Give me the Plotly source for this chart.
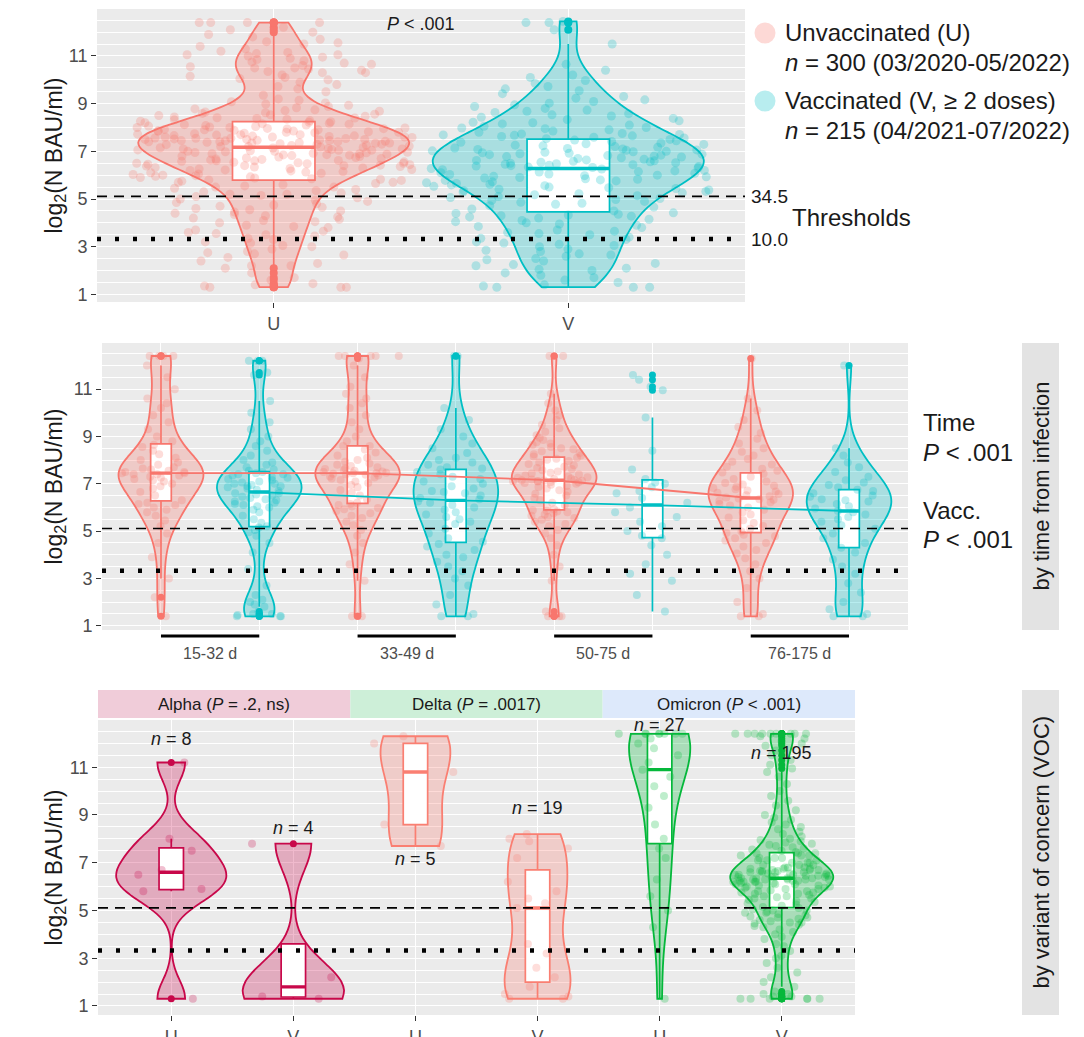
import numpy as np
import plotly.graph_objects as go

FIG_W, FIG_H = 1084, 1037

# ---------------- data: log2(N BAU/ml) ----------------
groups = ["U", "V"]

# overall (panel 1)
U_overall = [1.3, 1.3, 1.3, 1.35, 1.4, 1.45, 1.6, 1.7,
             1.9, 2.1, 2.2, 2.2, 2.3,
             2.4, 2.55, 2.65, 2.7, 2.75,
             2.8, 2.9, 3.0, 3.05, 3.15, 3.2,
             3.3, 3.35, 3.45, 3.5, 3.55, 3.6, 3.65, 3.7,
             3.8, 3.85, 3.9, 4.0, 4.05, 4.1, 4.15, 4.2, 4.25,
             4.3, 4.35, 4.4, 4.45, 4.5, 4.55, 4.6, 4.65, 4.7, 4.75,
             4.8, 4.85, 4.9, 4.95, 5.0, 5.05, 5.1, 5.15, 5.2, 5.2, 5.25,
             5.3, 5.35, 5.4, 5.45, 5.5, 5.5, 5.55, 5.6, 5.65, 5.7, 5.7, 5.75,
             5.78, 5.8, 5.83, 5.85, 5.88, 5.9, 5.93, 5.95, 5.98, 6.0, 6.03, 6.05, 6.08, 6.1, 6.13, 6.15, 6.18, 6.2, 6.22, 6.24,
             6.26, 6.28, 6.3, 6.32, 6.34, 6.36, 6.38, 6.4, 6.42, 6.44, 6.46, 6.48, 6.5, 6.52, 6.54, 6.56, 6.58, 6.6, 6.62,
             6.64, 6.66, 6.68, 6.7, 6.72, 6.74, 6.5, 6.6, 6.4,
             6.76, 6.78, 6.8, 6.82, 6.84, 6.86, 6.88, 6.9, 6.92, 6.94, 6.96, 6.98, 7.0, 7.02, 7.04, 7.06, 7.08, 7.1, 7.12,
             7.14, 7.16, 7.18, 7.2, 7.22, 7.24, 6.85, 6.95, 7.05, 7.15, 6.9, 7.0, 7.1, 7.2,
             7.26, 7.28, 7.3, 7.32, 7.34, 7.36, 7.38, 7.4, 7.42, 7.44, 7.46, 7.48, 7.5, 7.52, 7.54, 7.56, 7.58, 7.6, 7.62,
             7.64, 7.66, 7.68, 7.7, 7.72, 7.74, 7.3, 7.35, 7.4, 7.45, 7.5, 7.55, 7.6, 7.65, 7.7, 7.4, 7.45, 7.5, 7.55, 7.35, 7.6,
             7.76, 7.78, 7.8, 7.82, 7.84, 7.86, 7.88, 7.9, 7.92, 7.94, 7.96, 7.98, 8.0, 8.02, 8.04, 8.06, 8.08, 8.1, 8.12,
             8.14, 8.16, 8.18, 8.2, 8.22, 8.24, 7.8, 7.9, 8.0, 7.85, 7.95,
             8.26, 8.29, 8.32, 8.35, 8.38, 8.41, 8.44, 8.47, 8.5, 8.53, 8.56, 8.59, 8.62, 8.65, 8.68, 8.71, 8.74, 8.4,
             8.78, 8.83, 8.88, 8.93, 8.98, 9.03, 9.08, 9.14, 9.2,
             9.35, 9.5, 9.62, 9.72,
             9.8, 9.9, 10.0, 10.05, 10.1, 10.15, 10.2,
             10.3, 10.35, 10.4, 10.45, 10.5, 10.55, 10.6, 10.7, 10.3, 10.5, 10.65, 10.75, 10.95, 11.05,
             10.8, 10.85, 10.9, 11.0, 11.05, 11.1, 11.15, 11.2,
             11.3, 11.4, 11.5, 11.55, 11.6, 11.7,
             11.8, 11.9, 12.0, 12.1, 12.2,
             12.4, 12.4, 12.4, 12.4]
V_overall = [1.3, 1.3, 1.3, 1.35, 1.4, 1.5, 1.6, 1.7,
             1.8, 1.9, 2.0, 2.05, 2.1, 2.2, 2.25,
             2.3, 2.4, 2.45, 2.5, 2.6, 2.65, 2.7,
             2.8, 2.85, 2.9, 3.0, 3.05, 3.1, 3.15, 3.2,
             3.3, 3.35, 3.4, 3.5, 3.55, 3.6, 3.65, 3.7,
             3.8, 3.85, 3.9, 3.95, 4.0, 4.05, 4.1, 4.15, 4.2,
             4.25, 4.28, 4.3, 4.33, 4.36, 4.39, 4.42, 4.5, 4.58, 4.66, 4.72,
             4.78, 4.82, 4.86, 4.9, 4.94, 4.98, 5.02, 5.06, 5.1, 5.14, 5.18, 5.22,
             5.26, 5.29, 5.32, 5.35, 5.38, 5.41, 5.44, 5.47, 5.5, 5.53, 5.56, 5.59, 5.62, 5.65, 5.68, 5.72,
             5.76, 5.78, 5.8, 5.83, 5.85, 5.88, 5.9, 5.93, 5.95, 5.98, 6.0, 6.03, 6.05, 6.08, 6.1, 6.13, 6.15, 6.18, 6.2, 6.23,
             6.26, 6.28, 6.3, 6.32, 6.34, 6.36, 6.38, 6.4, 6.42, 6.44, 6.46, 6.48, 6.5, 6.52, 6.54, 6.56, 6.58, 6.6, 6.62,
             6.64, 6.67, 6.7, 6.73,
             6.76, 6.78, 6.8, 6.82, 6.84, 6.86, 6.88, 6.9, 6.92, 6.94, 6.96, 6.98, 7.0, 7.02, 7.04, 7.06, 7.08, 7.1, 7.12,
             7.14, 7.17, 7.2, 7.23,
             7.26, 7.29, 7.32, 7.35, 7.38, 7.41, 7.44, 7.47, 7.5, 7.53, 7.56, 7.59, 7.62, 7.65, 7.67, 7.69, 7.71, 7.73, 7.75,
             7.8, 7.85, 7.9, 7.95, 8.0, 8.05, 8.1, 8.15, 8.2, 8.22, 7.98,
             8.28, 8.33, 8.38, 8.43, 8.48, 8.53, 8.58, 8.63, 8.68, 8.73,
             8.8, 8.88, 8.95, 9.02, 9.09, 9.16, 9.23,
             9.3, 9.42, 9.54, 9.62, 9.72,
             9.85, 9.97, 10.1, 10.2,
             10.4, 10.65, 11.5, 12.1, 12.4, 12.4, 12.45]

# by time from infection (panel 2)
time_bins = ["15-32 d", "33-49 d", "50-75 d", "76-175 d"]
U_15_32 = [1.4, 2.2, 3.0, 3.9, 4.5, 4.9, 5.2, 5.45, 5.65, 5.8, 5.9, 6.0, 6.1, 6.15, 6.2,
           6.3, 6.5, 6.65, 6.8, 6.9, 7.0, 7.1, 7.15, 7.2, 7.25, 7.3, 7.35, 7.4, 7.4, 7.45,
           7.45, 7.5, 7.5, 7.55, 7.6, 7.65, 7.7, 7.8, 7.9, 8.0, 8.1, 8.25, 8.4, 8.55, 8.65,
           8.8, 9.0, 9.3, 9.6, 9.9, 10.2, 10.4, 10.6, 11.0, 11.5, 12.0, 12.4, 12.4, 12.4, 12.4]
U_33_49 = [1.4, 1.4, 2.9, 3.6, 4.1, 4.5, 4.8, 5.05, 5.25, 5.4, 5.55, 5.65, 5.75, 5.85, 5.92, 5.98, 6.04, 6.1, 6.15,
           6.2, 6.35, 6.5, 6.62, 6.74, 6.85, 6.95, 7.03, 7.1, 7.16, 7.22, 7.27, 7.31, 7.35, 7.38, 7.4, 7.42, 7.44,
           7.45,
           7.47, 7.5, 7.52, 7.55, 7.58, 7.62, 7.66, 7.7, 7.75, 7.8, 7.86, 7.93, 8.0, 8.1, 8.2, 8.32, 8.45, 8.6,
           8.6, 8.8, 9.0, 9.3, 9.6, 9.9, 10.2, 10.4, 10.6, 10.8, 11.1, 11.5, 12.0, 12.4, 12.4, 12.4, 12.4, 12.4, 12.3]
U_50_75 = [1.4, 1.4, 1.4, 1.6, 2.9, 3.5, 4.0, 4.4, 4.7, 4.9, 5.05, 5.2, 5.3, 5.4, 5.48, 5.55, 5.6, 5.65, 5.7, 5.75,
           5.8, 5.83, 5.86, 5.88,
           5.92, 6.0, 6.1, 6.2, 6.3, 6.4, 6.5, 6.58, 6.66, 6.73, 6.8, 6.86, 6.91, 6.96, 7.0, 7.03, 7.06, 7.08, 7.1,
           7.11, 7.12, 7.13, 7.14,
           7.15,
           7.16, 7.18, 7.2, 7.22, 7.25, 7.28, 7.31, 7.35, 7.39, 7.43, 7.47, 7.52, 7.57, 7.62, 7.67, 7.72, 7.78, 7.84,
           7.9, 7.96, 8.02, 8.06, 8.1,
           8.15, 8.2, 8.25, 8.3, 8.38, 8.46, 8.55, 8.65, 8.75, 8.85, 8.95, 9.05, 9.2, 9.35, 9.5, 9.7, 9.9, 10.1,
           10.4, 10.8, 12.4, 12.4, 8.5, 8.7]
U_76_175 = [1.4, 1.4, 1.5, 2.0, 2.6, 3.0, 3.3, 3.6, 3.85, 4.05, 4.2, 4.35, 4.5, 4.6, 4.7, 4.78, 4.85, 4.92,
            4.98, 5.1, 5.22, 5.34, 5.46, 5.58, 5.7, 5.8, 5.9, 6.0, 6.08, 6.15, 6.22, 6.28, 6.32, 6.35, 6.38,
            6.42, 6.47, 6.52, 6.57, 6.62, 6.67, 6.72, 6.77, 6.82, 6.87, 6.92, 6.97, 7.03, 7.1, 7.2, 7.3, 7.42,
            7.48, 7.55, 7.63, 7.72, 7.82, 7.93, 8.05, 8.2, 8.35, 8.5, 8.7, 8.9, 9.15, 9.4, 9.7, 10.1, 10.6, 12.3]
V_15_32 = [1.4, 1.4, 1.4, 1.45, 1.5, 1.5, 1.6, 1.8, 1.9, 2.0, 2.1, 2.3, 2.7, 3.4, 4.1, 4.5, 4.8, 4.95, 5.05, 5.15,
           5.2, 5.35, 5.5, 5.65, 5.8, 5.9, 6.0, 6.05, 6.1, 6.15, 6.2, 6.25, 6.3, 6.35, 6.4, 6.45, 6.5, 6.55, 6.6, 6.6,
           6.7, 6.75, 6.8, 6.85, 6.9, 6.9, 6.95, 7.0, 7.0, 7.05, 7.1, 7.15, 7.2, 7.25, 7.3, 7.35, 7.4, 7.4, 7.45, 7.5,
           7.55, 7.6, 7.7, 7.8, 7.9, 8.0, 8.2, 8.4, 8.6, 8.8, 9.0, 9.3, 9.6, 10.0, 10.5, 11.6, 11.7, 12.2, 12.2, 12.2]
V_33_49 = [1.4, 1.4, 1.5, 1.9, 2.3, 2.7, 3.0, 3.3, 3.5, 3.7, 3.9, 4.0, 4.2, 4.35, 4.45,
           4.55, 4.7, 4.9, 5.1, 5.3, 5.4, 5.5, 5.6, 5.7, 5.8, 5.9, 6.0, 6.1, 6.2, 6.25,
           6.35, 6.4, 6.5, 6.6, 6.65, 6.7, 6.8, 6.9, 7.0, 7.1, 7.2, 7.3, 7.4, 7.5, 7.6,
           7.65, 7.7, 7.8, 7.9, 8.0, 8.1, 8.3, 8.5, 8.7, 9.0, 9.3, 9.7, 10.2, 12.4, 12.4]
V_50_75 = [1.6, 2.3, 2.9, 3.2, 3.6, 4.0, 4.4, 4.7, 4.8, 5.0, 5.2, 5.4, 5.6, 5.8, 6.0,
           6.2, 6.4, 6.6, 6.7, 6.85, 7.0, 7.05, 7.2, 7.6, 8.4, 9.8, 10.95, 11.1, 11.4, 11.6]
V_76_175 = [1.4, 1.4, 1.5, 1.7, 2.0, 2.4, 2.8, 3.2, 3.5, 3.8, 4.1, 4.3,
            4.5, 4.7, 4.9, 5.1, 5.25, 5.4, 5.5, 5.6, 5.7, 5.8, 5.85,
            5.95, 6.05, 6.15, 6.25, 6.3, 6.35, 6.45, 6.5, 6.6, 6.7, 6.75,
            6.85, 6.95, 7.05, 7.15, 7.3, 7.5, 7.7, 7.9, 8.2, 8.5, 12.0]

# by variant of concern (panel 3)
variants = ["Alpha", "Delta", "Omicron"]
variant_p = ["<i>P</i> = .2, ns", "<i>P</i> = .0017", "<i>P</i> < .001"]
alpha_U = [1.3, 5.8, 5.9, 6.5, 6.7, 7.5, 8.0, 11.2]
alpha_V = [1.3, 1.4, 2.2, 7.8]
delta_U = [7.7, 8.6, 10.8, 12.0, 12.3]
delta_V = [1.3, 1.3, 1.4, 1.5, 1.8, 2.2, 2.6, 3.2, 3.6, 5.1, 5.3, 5.5, 5.8, 6.2, 7.2, 7.6, 7.9, 8.0, 8.2]
omicron_U = [1.3, 4.3, 5.0, 5.6, 6.3, 7.2, 7.6, 8.0, 8.6, 9.3, 9.8, 10.2, 10.6, 10.9, 11.2, 11.5, 11.8,
             12.0, 12.2, 12.4, 12.4, 12.4, 12.4, 12.4, 12.4, 12.4, 12.4]
omicron_V = [1.3, 1.3, 1.3, 1.3, 1.3, 1.3, 1.4, 1.4, 1.4, 1.5, 1.5,
             1.6, 1.8, 2.0, 2.2, 2.4, 2.6, 2.8, 3.0, 3.1, 3.3,
             3.5, 3.6, 3.8, 3.9, 4.0, 4.1, 4.2, 4.3, 4.35, 4.4,
             4.45, 4.5, 4.55, 4.6, 4.65, 4.7, 4.75, 4.8, 4.85, 4.9,
             4.95, 5.0, 5.05, 5.1, 4.5, 4.7, 4.9, 5.0,
             5.15, 5.2, 5.25, 5.3, 5.35, 5.4, 5.45, 5.5, 5.55, 5.6,
             5.6, 5.65, 5.7, 5.7, 5.75, 5.8, 5.8, 5.85, 5.9, 5.9,
             5.95, 6.0, 6.0, 6.05, 6.05, 6.1, 6.1, 6.15, 6.15, 6.2,
             6.2, 6.2, 6.25, 6.25, 6.25, 6.3, 6.3, 6.3, 6.3, 6.35,
             5.5, 5.75, 5.95, 6.1, 6.2, 6.3, 6.35, 6.35,
             6.35,
             6.4, 6.4, 6.4, 6.4, 6.45, 6.45, 6.45, 6.5, 6.5, 6.5, 6.5,
             6.55, 6.55, 6.55, 6.6, 6.6, 6.6, 6.6, 6.65, 6.65, 6.65,
             6.7, 6.7, 6.7, 6.75, 6.75, 6.75, 6.8, 6.8, 6.8,
             6.9, 6.9, 6.9, 7.0, 7.0, 7.0, 7.1, 7.1, 7.1,
             7.2, 7.2, 7.2, 7.3, 7.3, 7.3, 7.4, 7.4, 7.4,
             7.45, 7.5, 7.55, 7.6, 7.65, 7.7, 7.75, 7.8, 7.85, 7.9,
             7.95, 8.0, 8.1, 8.2, 8.3, 8.4, 8.5, 8.6, 8.7, 8.8,
             8.9, 9.0, 9.2, 9.4, 9.6, 9.8, 10.0, 10.3, 10.6, 10.8,
             10.95, 11.1, 11.3, 11.5, 11.7, 11.9, 12.0, 12.1, 12.2, 12.3,
             12.4, 12.4, 12.4, 12.4, 12.4, 12.4, 12.4, 12.4, 12.4]

thresholds = [34.5, 10.0]          # N BAU/ml
legend_labels = ["Unvaccinated (U)", "Vaccinated (V, \u2265 2 doses)"]
legend_periods = ["03/2020-05/2022", "04/2021-07/2022"]
time_p = ["Time", "<i>P</i> < .001", "Vacc.", "<i>P</i> < .001"]
overall_p = "<i>P</i> < .001"

U_time = [U_15_32, U_33_49, U_50_75, U_76_175]
V_time = [V_15_32, V_33_49, V_50_75, V_76_175]
voc = {"Alpha": (alpha_U, alpha_V), "Delta": (delta_U, delta_V), "Omicron": (omicron_U, omicron_V)}

# ---------------- style ----------------
FONT = "Liberation Sans, Arial, sans-serif"
C_U, C_V = "#F8766D", "#00BFC4"
VOC_COL = {"Alpha": "#C8084A", "Delta": "#FA7F72", "Omicron": "#05B83B"}
STRIP_FILL = {"Alpha": "#F0CCD9", "Delta": "#CDEFD8", "Omicron": "#DDE9FB"}
BG = "#EBEBEB"
TXT = "#1A1A1A"
AX_TXT = "#4D4D4D"

P1 = dict(x0=97, x1=745, y0=9, y1=302, r=[0.68, 12.97])
P2 = dict(x0=102, x1=908, y0=343, y1=630, r=[0.82, 12.95])
P3 = dict(x0=98, x1=855, y0=720, y1=1015, r=[0.62, 12.98])


def fx(x):
    return x / FIG_W


def fy(y):
    return 1 - y / FIG_H


def rgba(h, a):
    h = h.lstrip("#")
    return "rgba(%d,%d,%d,%.3f)" % (int(h[0:2], 16), int(h[2:4], 16), int(h[4:6], 16), a)


def box_stats(vals):
    a = np.sort(np.asarray(vals, float))
    q1, med, q3 = np.percentile(a, [25, 50, 75])
    iqr = q3 - q1
    lo_f, hi_f = q1 - 1.5 * iqr, q3 + 1.5 * iqr
    inside = a[(a >= lo_f) & (a <= hi_f)]
    outl = a[(a < lo_f) | (a > hi_f)]
    return q1, med, q3, inside.min(), inside.max(), outl


def nrd0(vals):
    a = np.asarray(vals, float)
    sd = a.std(ddof=1)
    iqr = np.subtract(*np.percentile(a, [75, 25]))
    lo = min(sd, iqr / 1.34) if iqr > 0 else sd
    return 0.9 * lo * len(a) ** -0.2


fig = go.Figure()


def add_group(vals, cat, color, xa, ya, vw, bw, jw, psize, osize, violin=True):
    if violin:
        fig.add_trace(go.Violin(x0=cat, y=vals, xaxis=xa, yaxis=ya, width=vw, scalemode="width",
                                spanmode="hard", bandwidth=nrd0(vals), fillcolor=rgba(color, 0.28),
                                line=dict(color=color, width=1.8), points=False,
                                box=dict(visible=False), meanline=dict(visible=False),
                                hoverinfo="skip", showlegend=False))
    q1, med, q3, lo, hi, outl = box_stats(vals)
    fig.add_trace(go.Box(x=[cat], q1=[q1], median=[med], q3=[q3], lowerfence=[lo], upperfence=[hi],
                         xaxis=xa, yaxis=ya, width=bw, fillcolor="white",
                         line=dict(color=color, width=1.7), whiskerwidth=0, boxpoints=False,
                         hoverinfo="skip", showlegend=False))
    fig.add_trace(go.Box(x=[cat], q1=[med], median=[med], q3=[med], lowerfence=[med], upperfence=[med],
                         xaxis=xa, yaxis=ya, width=bw, fillcolor=color,
                         line=dict(color=color, width=3.4), whiskerwidth=0, boxpoints=False,
                         hoverinfo="skip", showlegend=False))
    fig.add_trace(go.Box(x0=cat, y=vals, xaxis=xa, yaxis=ya, width=jw, boxpoints="all", jitter=1,
                         pointpos=0, fillcolor="rgba(0,0,0,0)",
                         line=dict(width=0, color="rgba(0,0,0,0)"), whiskerwidth=0,
                         marker=dict(color=rgba(color, 0.26), size=psize, line=dict(width=0)),
                         hoverinfo="skip", showlegend=False))
    if len(outl):
        fig.add_trace(go.Scatter(x=[cat] * len(outl), y=outl, xaxis=xa, yaxis=ya, mode="markers",
                                 marker=dict(color=color, size=osize), hoverinfo="skip", showlegend=False))
    return med


# ---- panel 1: overall ----
cats1 = groups
add_group(U_overall, "U", C_U, "x", "y", 0.92, 0.28, 0.97, 9, 8)
add_group(V_overall, "V", C_V, "x", "y", 0.92, 0.28, 0.97, 9, 8)

# ---- panel 2: by time from infection ----
cats2 = [f"{t} {g}" for t in time_bins for g in groups]
medU, medV = [], []
for t, u, v in zip(time_bins, U_time, V_time):
    medU.append(add_group(u, f"{t} U", C_U, "x2", "y2", 0.86, 0.21, 0.85, 8, 7))
    medV.append(add_group(v, f"{t} V", C_V, "x2", "y2", 0.86, 0.21, 0.85, 8, 7,
                          violin=(t != "50-75 d")))
fig.add_trace(go.Scatter(x=[f"{t} U" for t in time_bins], y=medU, xaxis="x2", yaxis="y2", mode="lines",
                         line=dict(color=C_U, width=1.8), hoverinfo="skip", showlegend=False))
fig.add_trace(go.Scatter(x=[f"{t} V" for t in time_bins], y=medV, xaxis="x2", yaxis="y2", mode="lines",
                         line=dict(color=C_V, width=1.8), hoverinfo="skip", showlegend=False))

# ---- panel 3: by variant ----
cats3 = [f"{v} {g}" for v in variants for g in groups]
vio_w3 = {"Alpha U": 0.9, "Alpha V": 0.83, "Delta U": 0.57, "Delta V": 0.54, "Omicron U": 0.5, "Omicron V": 0.84}
for v in variants:
    for g, vals in zip(groups, voc[v]):
        add_group(vals, f"{v} {g}", VOC_COL[v], "x3", "y3", vio_w3[f"{v} {g}"], 0.2, 0.8, 8, 7)


# ---------------- axes ----------------
def xaxis_cfg(P, cats, anchor, labels=True, ticktext=None):
    d = dict(domain=[fx(P["x0"]), fx(P["x1"])], anchor=anchor, type="category",
             categoryorder="array", categoryarray=cats, range=[-0.6, len(cats) - 0.4],
             showgrid=True, gridcolor="white", gridwidth=1.3, zeroline=False, showline=False,
             ticks="outside" if labels else "", ticklen=5, tickwidth=1.1, tickcolor="#333333",
             showticklabels=labels, tickfont=dict(family=FONT, size=18, color=AX_TXT), fixedrange=True)
    if ticktext is not None:
        d.update(tickmode="array", tickvals=cats, ticktext=ticktext)
    return d


def yaxis_cfg(P, anchor):
    return dict(domain=[fy(P["y1"]), fy(P["y0"])], anchor=anchor, range=P["r"],
                tickmode="linear", tick0=1, dtick=2, ticks="outside", ticklen=5, tickwidth=1.1,
                tickcolor="#333333", tickfont=dict(family=FONT, size=18, color=AX_TXT),
                showgrid=True, gridcolor="white", gridwidth=1.3, zeroline=False, showline=False,
                minor=dict(tickmode="linear", tick0=0, dtick=0.5, showgrid=True, gridcolor="white",
                           gridwidth=1.0),
                fixedrange=True)


shapes, annotations = [], []

# threshold lines
thr_y = [float(np.log2(t)) for t in thresholds]
for xr, yr in (("x", "y"), ("x2", "y2"), ("x3", "y3")):
    shapes.append(dict(type="line", xref=f"{xr} domain", yref=yr, x0=0, x1=1, y0=thr_y[0], y1=thr_y[0],
                       line=dict(color="black", width=1.6, dash="10px,7px"), layer="above"))
    shapes.append(dict(type="line", xref=f"{xr} domain", yref=yr, x0=0, x1=1, y0=thr_y[1], y1=thr_y[1],
                       line=dict(color="black", width=4.5, dash="4px,14px"), layer="above"))

for t, yv in zip(thresholds, thr_y):
    annotations.append(dict(text=f"{t:.1f}", xref="paper", yref="y", x=fx(749), y=yv, xanchor="left",
                            yanchor="middle", showarrow=False, font=dict(family=FONT, size=19, color=TXT)))
annotations.append(dict(text="Thresholds", xref="paper", yref="y", x=fx(790), y=float(np.mean(thr_y)),
                        xanchor="left", yanchor="middle", showarrow=False,
                        font=dict(family=FONT, size=24, color=TXT)))

# y titles
for P in (P1, P2, P3):
    annotations.append(dict(text="log<sub>2</sub>(N BAU/ml)", xref="paper", yref="paper", x=fx(55),
                            y=fy((P["y0"] + P["y1"]) / 2), xanchor="center", yanchor="middle",
                            textangle=-90, showarrow=False, font=dict(family=FONT, size=23, color=TXT)))

# panel 1 p-value
annotations.append(dict(text=overall_p, xref="x", yref="y", x=0.5, y=12.35, showarrow=False,
                        font=dict(family=FONT, size=18, color=TXT)))

# legend
leg_cols = [C_U, C_V]
leg_n = [len(U_overall), len(V_overall)]
for i, (lab, per, col, n) in enumerate(zip(legend_labels, legend_periods, leg_cols, leg_n)):
    yc = 33 + i * 68
    shapes.append(dict(type="circle", xref="paper", yref="paper", xsizemode="pixel", ysizemode="pixel",
                       xanchor=fx(765), yanchor=fy(yc), x0=-10.5, x1=10.5, y0=-10.5, y1=10.5,
                       fillcolor=rgba(col, 0.28), line=dict(width=0)))
    annotations.append(dict(text=lab, xref="paper", yref="paper", x=fx(783), y=fy(yc), xanchor="left",
                            yanchor="middle", showarrow=False, font=dict(family=FONT, size=24, color=TXT)))
    annotations.append(dict(text=f"<i>n</i> = {n} ({per})", xref="paper", yref="paper", x=fx(783),
                            y=fy(yc + 30), xanchor="left", yanchor="middle", showarrow=False,
                            font=dict(family=FONT, size=24, color=TXT)))

# panel 2 group bars and labels
for t in time_bins:
    iu, iv = cats2.index(f"{t} U"), cats2.index(f"{t} V")
    shapes.append(dict(type="line", xref="x2", yref="paper", x0=iu, x1=iv, y0=fy(636), y1=fy(636),
                       line=dict(color="black", width=3)))
    annotations.append(dict(text=t, xref="x2", yref="paper", x=(iu + iv) / 2, y=fy(653), xanchor="center",
                            yanchor="middle", showarrow=False, font=dict(family=FONT, size=16, color=AX_TXT)))
for txt, yy in zip(time_p, [423, 452, 510, 539]):
    annotations.append(dict(text=txt, xref="paper", yref="paper", x=fx(921), y=fy(yy), xanchor="left",
                            yanchor="middle", showarrow=False, font=dict(family=FONT, size=24, color=TXT)))

# right-hand strips
for (y0, y1, txt) in ((P2["y0"], P2["y1"], "by time from infection"),
                      (690, P3["y1"], "by variant of concern (VOC)")):
    shapes.append(dict(type="rect", xref="paper", yref="paper", x0=fx(1022), x1=fx(1059), y0=fy(y1), y1=fy(y0),
                       fillcolor="#E3E3E3", line=dict(width=0), layer="below"))
    annotations.append(dict(text=txt, xref="paper", yref="paper", x=fx(1041), y=fy((y0 + y1) / 2),
                            textangle=-90, xanchor="center", yanchor="middle", showarrow=False,
                            font=dict(family=FONT, size=22, color=TXT)))

# panel 3 facet strips
for k, (v, p) in enumerate(zip(variants, variant_p)):
    shapes.append(dict(type="rect", xref="x3 domain", yref="paper", x0=k / 3, x1=(k + 1) / 3,
                       y0=fy(718), y1=fy(690), fillcolor=STRIP_FILL[v], line=dict(width=0)))
    annotations.append(dict(text=f"{v} ({p})", xref="x3 domain", yref="paper", x=(k + 0.5) / 3, y=fy(704),
                            xanchor="center", yanchor="middle", showarrow=False,
                            font=dict(family=FONT, size=17, color=TXT)))

# n labels
n_label_y = {"Alpha U": 12.2, "Alpha V": 8.45, "Delta U": 7.15, "Delta V": 9.3,
             "Omicron U": 12.75, "Omicron V": 11.6}
for v in variants:
    for g, vals in zip(groups, voc[v]):
        c = f"{v} {g}"
        annotations.append(dict(text=f"<i>n</i> = {len(vals)}", xref="x3", yref="y3", x=cats3.index(c),
                                y=n_label_y[c], showarrow=False, font=dict(family=FONT, size=18, color=TXT)))

fig.update_layout(
    width=FIG_W, height=FIG_H, margin=dict(l=0, r=0, t=0, b=0),
    template="none", paper_bgcolor="white", plot_bgcolor=BG, showlegend=False,
    font=dict(family=FONT, color=TXT),
    violinmode="overlay", boxmode="overlay",
    xaxis=xaxis_cfg(P1, cats1, "y"),
    yaxis=yaxis_cfg(P1, "x"),
    xaxis2=xaxis_cfg(P2, cats2, "y2", labels=False),
    yaxis2=yaxis_cfg(P2, "x2"),
    xaxis3=xaxis_cfg(P3, cats3, "y3", ticktext=[g for _ in variants for g in groups]),
    yaxis3=yaxis_cfg(P3, "x3"),
    shapes=shapes, annotations=annotations,
)

fig.write_html("out.html", config={"displayModeBar": False},
               post_script="document.body.style.margin='0';document.body.style.overflow='hidden';")
